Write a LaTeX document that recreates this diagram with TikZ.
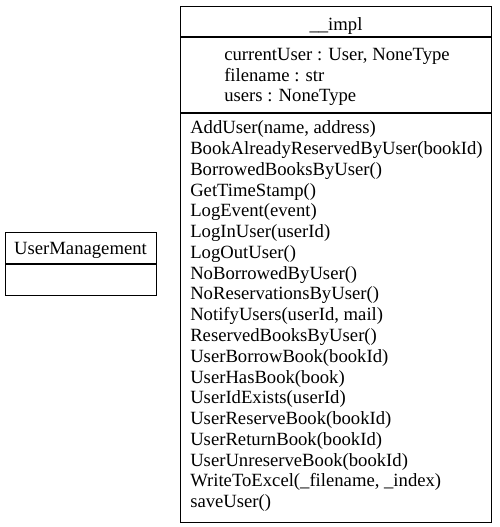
\documentclass[tikz,border=0pt]{standalone}
\usepackage{fontspec}
\setmainfont{Liberation Serif}
\usetikzlibrary{positioning}

\begin{document}
\begin{tikzpicture}[
    x=0.75pt, y=-0.75pt,
    compart/.style={draw, line width=0.8pt, inner sep=0pt,
                    minimum width=233.25pt},
    smallcompart/.style={draw, line width=0.8pt, inner sep=0pt,
                    minimum width=113.25pt, minimum height=23.25pt},
    member/.style={inner sep=0pt, anchor=base west,
                   font=\fontsize{14}{15.6}\selectfont}
  ]
  \useasboundingbox (0,0) rectangle (499,527);

  % __impl class
  \node[compart, minimum height=22.5pt, anchor=north west] (impltitle) at (180,6) {};
  \node[compart, minimum height=56.25pt, below=0pt of impltitle] (implattrs) {};
  \node[compart, minimum height=306.75pt, below=0pt of implattrs] (implmethods) {};
  \node[member, anchor=base] (implname) at (336,30.7) {\_\_impl};

  \foreach \a [count=\i] in {{currentUser : User, NoneType}, filename : str, users : NoneType}
    \node[member] (attr\i) at (224,{61+(\i-1)*20.2}) {\a};

  \foreach \m [count=\i] in {{AddUser(name, address)}, BookAlreadyReservedByUser(bookId),
      BorrowedBooksByUser(), GetTimeStamp(), LogEvent(event), LogInUser(userId),
      LogOutUser(), NoBorrowedByUser(), NoReservationsByUser(),
      {NotifyUsers(userId, mail)}, ReservedBooksByUser(), UserBorrowBook(bookId),
      UserHasBook(book), UserIdExists(userId), UserReserveBook(bookId),
      UserReturnBook(bookId), UserUnreserveBook(bookId),
      {WriteToExcel(\_filename, \_index)}, saveUser()}
    \node[member] (meth\i) at (190,{133.7+(\i-1)*20.78}) {\m};

  % UserManagement class
  \node[smallcompart, anchor=north west] (umtitle) at (5,232) {};
  \node[smallcompart, below=0pt of umtitle] (umbody) {};
  \node[member, anchor=base] (umname) at (80.5,254.3) {UserManagement};
\end{tikzpicture}
\end{document}
